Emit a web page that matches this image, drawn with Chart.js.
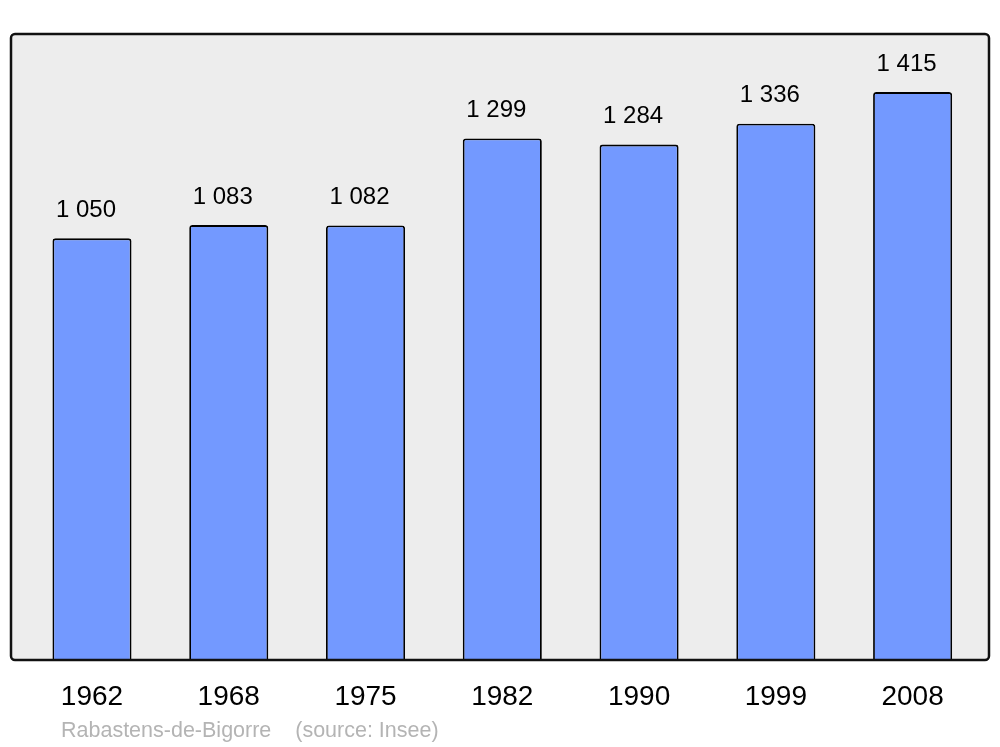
<!DOCTYPE html>
<html>
<head>
<meta charset="utf-8">
<script src="https://cdn.jsdelivr.net/npm/chart.js@4"></script>
<style>
  html, body { margin: 0; padding: 0; background: #fff; }
  #wrap { width: 1000px; height: 747px; }
</style>
</head>
<body>
<div id="wrap"><canvas id="pop" width="1000" height="747"></canvas></div>
<script>
const years = ["1962", "1968", "1975", "1982", "1990", "1999", "2008"];
const population = [1050, 1083, 1082, 1299, 1284, 1336, 1415];
const footer = "Rabastens-de-Bigorre    (source: Insee)";

const fmt = v => String(v).replace(/\B(?=(\d{3})+(?!\d))/g, " ");

// grey box behind the bars, black rounded frame over them
const frame = {
    id: "frame",
    beforeDatasetsDraw(chart) {
        const ctx = chart.ctx;
        ctx.save();
        ctx.beginPath();
        ctx.roundRect(11, 34, 978, 626, 4);
        ctx.fillStyle = "#ededed";
        ctx.fill();
        ctx.restore();
    },
    afterDatasetsDraw(chart) {
        const ctx = chart.ctx;
        ctx.save();
        ctx.beginPath();
        ctx.roundRect(11, 34, 978, 626, 4);
        ctx.lineWidth = 2.5;
        ctx.strokeStyle = "#111";
        ctx.stroke();

        // value labels above each bar
        ctx.font = "24px 'Liberation Sans', Arial, sans-serif";
        ctx.fillStyle = "#000";
        ctx.textAlign = "center";
        ctx.textBaseline = "middle";
        chart.getDatasetMeta(0).data.forEach((bar, i) => {
            ctx.fillText(fmt(population[i]), bar.x - 6, bar.y - 28);
        });

        ctx.font = "21.5px 'Liberation Sans', Arial, sans-serif";
        ctx.fillStyle = "#b4b4b4";
        ctx.textAlign = "left";
        ctx.textBaseline = "alphabetic";
        ctx.fillText(footer, 61, 737);
        ctx.restore();
    }
};

new Chart(document.getElementById("pop"), {
    type: "bar",
    data: {
        labels: years,
        datasets: [{
            data: population,
            backgroundColor: "#7399ff",
            borderColor: "#000",
            borderWidth: 1.8,
            borderRadius: 3,
            borderSkipped: "bottom",
            barPercentage: 0.578,
            categoryPercentage: 1
        }]
    },
    options: {
        responsive: false,
        animation: false,
        layout: { padding: { left: 23.6, right: 19, top: 34, bottom: 35 } },
        plugins: { legend: { display: false }, tooltip: { enabled: false } },
        scales: {
            x: {
                grid: { display: false, drawTicks: false },
                border: { display: false },
                afterFit: s => { s.height = 53; },
                ticks: {
                    color: "#000",
                    padding: 21,
                    font: { size: 28, family: "'Liberation Sans', Arial, sans-serif" }
                }
            },
            y: { display: false, min: 0, max: 1560 }
        }
    },
    plugins: [frame]
});
</script>
</body>
</html>
